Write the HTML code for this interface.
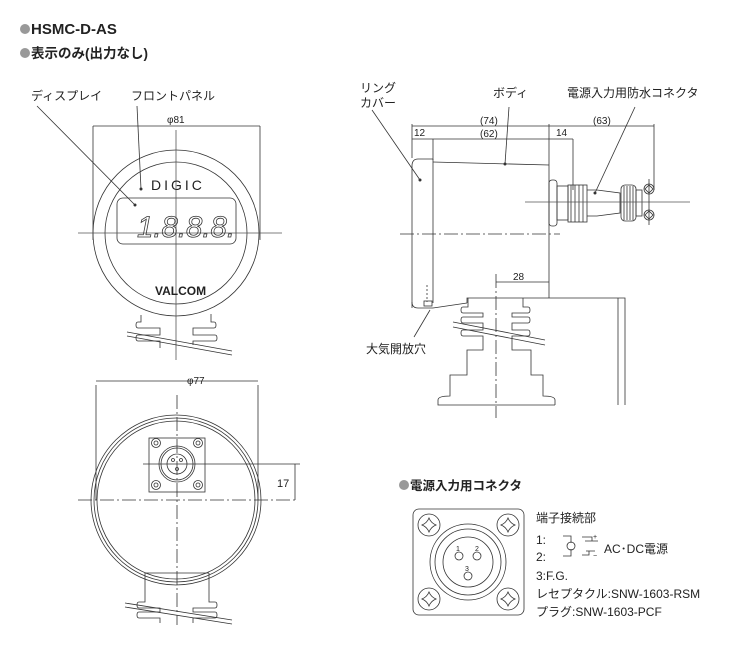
<!DOCTYPE html>
<html><head><meta charset="utf-8"><style>
html,body{margin:0;padding:0;background:#fff}
svg{display:block}
text{font-family:"Liberation Sans","Noto Sans CJK JP",sans-serif;fill:#222}
</style></head><body>
<svg width="745" height="650" viewBox="0 0 745 650" xmlns="http://www.w3.org/2000/svg">
<circle cx="25" cy="29" r="5" fill="#999"/>
<text x="31" y="34" font-size="15" font-weight="bold">HSMC-D-AS</text>
<circle cx="25" cy="53" r="5" fill="#999"/>
<text x="31" y="58" font-size="13.5" font-weight="bold">表示のみ(出力なし)</text>
<text x="31" y="100" font-size="12">ディスプレイ</text>
<text x="131" y="100" font-size="12">フロントパネル</text>
<text x="360" y="92" font-size="12">リング</text>
<text x="360" y="107" font-size="12">カバー</text>
<text x="493" y="97" font-size="12">ボディ</text>
<text x="567" y="97" font-size="12">電源入力用防水コネクタ</text>
<text x="366" y="353" font-size="12">大気開放穴</text>

<g fill="none" stroke="#333" stroke-width="0.8">
<line x1="93" y1="126" x2="93" y2="240"/><line x1="260" y1="126" x2="260" y2="240"/>
<line x1="93" y1="126" x2="260" y2="126"/>
<circle cx="176" cy="233" r="83"/>
<circle cx="176" cy="233" r="71"/>
<rect x="117" y="198" width="119" height="46" rx="6"/>
<line x1="78" y1="233" x2="282" y2="233" stroke="#555"/>
<line x1="176" y1="130" x2="176" y2="360" stroke="#555"/>
<line x1="37" y1="106" x2="135" y2="205"/>
<line x1="137" y1="106" x2="141" y2="189"/>
<path d="M141 315 V322 H138 Q136 322 136 325 Q136 328 138 328 H160 V335 H138 Q136 335 136 338 Q136 341 138 341 H160 V348 M211 314 V322 H214 Q216 322 216 325 Q216 328 214 328 H193 V335 H215 Q217 335 217 338 Q217 341 215 341 H193 V345"/>
<line x1="127" y1="332" x2="232" y2="351"/><line x1="127" y1="336" x2="232" y2="355"/>
</g>
<circle cx="141" cy="189" r="1.5" fill="#333"/>
<circle cx="135" cy="205" r="1.5" fill="#333"/>
<text x="167" y="123" font-size="10">φ81</text>
<text x="151" y="190" font-size="14" letter-spacing="3" fill="#444">DIGIC</text>
<text x="137" y="237" font-size="30" font-style="italic" style="fill:none;stroke:#333;stroke-width:0.8" textLength="98" lengthAdjust="spacingAndGlyphs">1.8.8.8.</text>
<text x="155" y="295" font-size="12" font-weight="bold" fill="#222">VALCOM</text>

<g fill="none" stroke="#333" stroke-width="0.8">
<line x1="412" y1="124" x2="412" y2="158"/><line x1="549" y1="124" x2="549" y2="298"/>
<line x1="412" y1="126" x2="549" y2="126"/>
<line x1="412" y1="139" x2="549" y2="139"/>
<line x1="433" y1="139" x2="433" y2="160"/>
<line x1="549" y1="126" x2="654" y2="126"/>
<line x1="654" y1="124" x2="654" y2="190"/>
<line x1="549" y1="139" x2="573" y2="139"/><line x1="573" y1="139" x2="573" y2="190"/>
<path d="M412 308 V166 Q412 159 418 159 H433"/>
<path d="M412 302 Q412 308 418 308 H433"/>
<line x1="433" y1="159" x2="433" y2="303"/>
<line x1="433" y1="162" x2="549" y2="165"/>
<line x1="433" y1="308" x2="467" y2="303"/>
<line x1="427" y1="285" x2="427" y2="302" stroke-dasharray="2,2"/>
<rect x="424" y="301" width="8" height="5"/>
<line x1="400" y1="234" x2="560" y2="234" stroke-dasharray="14,3,2,3"/>
<line x1="372" y1="110" x2="420" y2="180"/>
<line x1="509" y1="107" x2="505" y2="164"/>
<line x1="635" y1="107" x2="595" y2="193"/>
<line x1="430" y1="310" x2="414" y2="337"/>
<rect x="549" y="180" width="8" height="46" rx="3"/>
<rect x="557" y="186" width="11" height="34"/>
<rect x="568" y="185" width="19" height="37"/>
<line x1="571" y1="185" x2="571" y2="222"/><line x1="575" y1="185" x2="575" y2="222"/><line x1="579" y1="185" x2="579" y2="222"/><line x1="583" y1="185" x2="583" y2="222"/>
<path d="M587 190 H597 L620 193 V213 L597 216 H587"/>
<rect x="621" y="185" width="15" height="36" rx="4"/>
<line x1="624" y1="186" x2="624" y2="220"/><line x1="627" y1="186" x2="627" y2="220"/><line x1="630" y1="186" x2="630" y2="220"/><line x1="633" y1="186" x2="633" y2="220"/>
<rect x="636" y="190" width="6" height="26"/>
<circle cx="649" cy="189" r="5"/><circle cx="649" cy="215" r="5"/>
<path d="M645 189 L649 185 653 189 649 193Z M645 215 L649 211 653 215 649 219Z"/>
<line x1="525" y1="202" x2="690" y2="202" stroke="#555"/>
<line x1="649" y1="179" x2="649" y2="225"/>
<line x1="496" y1="274" x2="496" y2="418" stroke-dasharray="14,3,2,3"/>
<line x1="496" y1="282" x2="549" y2="282"/>
<path d="M467 303 V298 H625 V405"/>
<line x1="618" y1="298" x2="618" y2="405"/>
<path d="M468 298 V307 H463 Q461 307 461 310 Q461 313 463 313 H483 V317 H463 Q461 317 461 320 Q461 323 463 323 H483 V330 H463 Q461 330 461 333 Q461 336 463 336 H483 V350 H467 V375 H450 V396 Q438 396 438 400 V405 H555"/>
<path d="M523 298 V307 H528 Q530 307 530 310 Q530 313 528 313 H512 V317 H528 Q530 317 530 320 Q530 323 528 323 H512 V330 H528 Q530 330 530 333 Q530 336 528 336 H512 V350 H531 V375 H543 V396 Q555 396 555 400 V405"/>
<line x1="453" y1="322" x2="545" y2="340"/><line x1="453" y1="327" x2="545" y2="345"/>

<line x1="96" y1="385" x2="96" y2="500"/><line x1="258" y1="385" x2="258" y2="500"/>
<line x1="96" y1="381" x2="258" y2="381"/>
<circle cx="176" cy="500" r="85"/>
<circle cx="176" cy="500" r="82"/>
<circle cx="176" cy="500" r="79"/>
<line x1="78" y1="500" x2="295" y2="500" stroke-dasharray="14,3,2,3"/>
<line x1="177" y1="395" x2="177" y2="625" stroke-dasharray="14,3,2,3"/>
<line x1="143" y1="464" x2="300" y2="464"/>
<line x1="295" y1="464" x2="295" y2="500"/>
<rect x="149" y="438" width="56" height="54"/>
<circle cx="177" cy="464" r="18"/><circle cx="177" cy="464" r="16"/><circle cx="177" cy="464" r="10"/>
<circle cx="173" cy="460" r="1.5"/><circle cx="181" cy="460" r="1.5"/><circle cx="177" cy="469" r="1.5"/>
<circle cx="156" cy="443" r="4.5"/><circle cx="198" cy="443" r="4.5"/><circle cx="156" cy="485" r="4.5"/><circle cx="198" cy="485" r="4.5"/>
<circle cx="156" cy="443" r="2"/><circle cx="198" cy="443" r="2"/><circle cx="156" cy="485" r="2"/><circle cx="198" cy="485" r="2"/>
<path d="M145 573 V602 H139 Q137 602 137 605 Q137 608 139 608 H160 V612 H139 Q137 612 137 615 Q137 618 139 618 H160 V623 M209 573 V602 H215 Q217 602 217 605 Q217 608 215 608 H193 V612 H215 Q217 612 217 615 Q217 618 215 618 H193 V623"/>
<line x1="145" y1="573" x2="209" y2="573"/>
<line x1="125" y1="603" x2="232" y2="620"/><line x1="125" y1="607" x2="232" y2="624"/>

<rect x="413" y="509" width="111" height="106" rx="6"/>
<circle cx="468" cy="562" r="38"/><circle cx="468" cy="562" r="33"/><circle cx="468" cy="562" r="25"/>
<circle cx="459" cy="556" r="4"/><circle cx="477" cy="556" r="4"/><circle cx="468" cy="576" r="4"/>
<circle cx="429" cy="525" r="11"/><circle cx="508" cy="525" r="11"/><circle cx="429" cy="599" r="11"/><circle cx="508" cy="599" r="11"/>
<path d="M422 525 Q427 523 429 518 Q431 523 436 525 Q431 527 429 532 Q427 527 422 525Z"/>
<path d="M501 525 Q506 523 508 518 Q510 523 515 525 Q510 527 508 532 Q506 527 501 525Z"/>
<path d="M422 599 Q427 597 429 592 Q431 597 436 599 Q431 601 429 606 Q427 601 422 599Z"/>
<path d="M501 599 Q506 597 508 592 Q510 597 515 599 Q510 601 508 606 Q506 601 501 599Z"/>
<path d="M563 536 H571 V543 M563 556 H571 V549"/>
<circle cx="571" cy="546" r="4"/>
<path d="M582 537 H592 V541 M585 541 H598 M586 551 H595 M589 551 V555 H582"/>
</g>
<text x="187" y="384" font-size="10">φ77</text>
<text x="277" y="487" font-size="11">17</text>
<text x="480" y="124" font-size="10">(74)</text>
<text x="414" y="136" font-size="10">12</text>
<text x="480" y="137" font-size="10">(62)</text>
<text x="556" y="136" font-size="10">14</text>
<text x="593" y="124" font-size="10">(63)</text>
<text x="513" y="280" font-size="10">28</text>
<circle cx="420" cy="180" r="1.5" fill="#333"/><circle cx="505" cy="164" r="1.5" fill="#333"/><circle cx="595" cy="193" r="1.5" fill="#333"/>
<circle cx="404" cy="485" r="5" fill="#999"/>
<text x="410" y="490" font-size="12.5" font-weight="bold">電源入力用コネクタ</text>
<text x="456" y="551" font-size="7">1</text><text x="475" y="551" font-size="7">2</text><text x="465" y="571" font-size="7">3</text>
<text x="536" y="522" font-size="12">端子接続部</text>
<text x="536" y="544" font-size="12">1:</text>
<text x="536" y="561" font-size="12">2:</text>
<text x="593" y="539" font-size="7">+</text><text x="593" y="558" font-size="7">−</text>
<text x="604" y="553" font-size="12">AC･DC電源</text>
<text x="536" y="580" font-size="12">3:F.G.</text>
<text x="536" y="598" font-size="12">レセプタクル:SNW-1603-RSM</text>
<text x="536" y="616" font-size="12">プラグ:SNW-1603-PCF</text>
</svg>
</body></html>
